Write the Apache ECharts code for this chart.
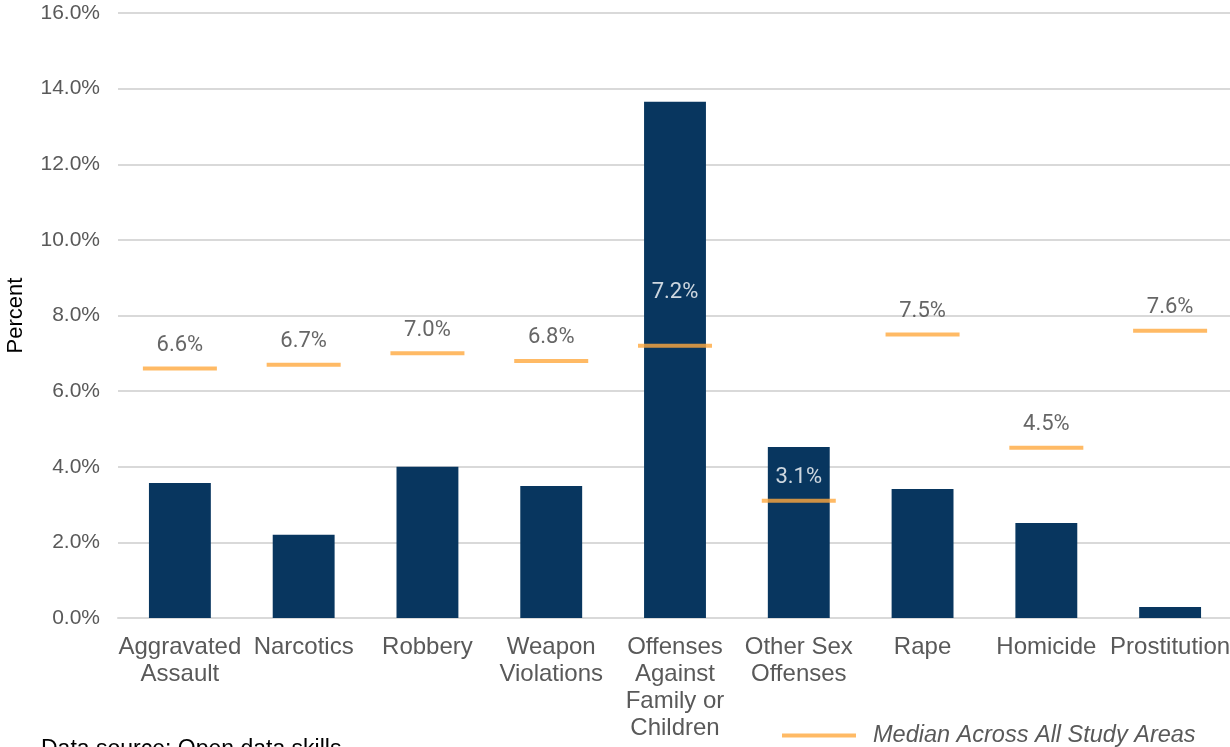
<!DOCTYPE html>
<html>
<head>
<meta charset="utf-8">
<script src="https://cdn.jsdelivr.net/npm/echarts@6/dist/echarts.min.js"></script>
<style>
  html, body { margin: 0; padding: 0; background: #ffffff; }
  #chart { width: 1230px; height: 747px; }
</style>
</head>
<body>
<div id="chart"></div>
<script>
// Offense categories along the x axis
const categories = [
  'Aggravated\nAssault', 'Narcotics', 'Robbery', 'Weapon\nViolations',
  'Offenses\nAgainst\nFamily or\nChildren', 'Other Sex\nOffenses', 'Rape',
  'Homicide', 'Prostitution'
];
// Share of offenses in this area (percent)
const areaPercent = [3.57, 2.2, 4.0, 3.49, 13.65, 4.52, 3.41, 2.51, 0.29];
// Median share across all study areas (percent)
const medianPercent = [6.6, 6.7, 7.0, 6.8, 7.2, 3.1, 7.5, 4.5, 7.6];
// Y axis range and step (percent)
const yMin = 0, yMax = 16, yStep = 2;

const sansFont = "'Liberation Sans', Arial, sans-serif";
const labelFont = "'Roboto', sans-serif";
const medianData = medianPercent.map((v, i) => {
  const item = { value: v };
  if (i === 4) {
    item.label = { color: '#ffffff', distance: 40 };
  } else if (i === 5) {
    item.label = { color: '#ffffff' };
  }
  return item;
});

const chart = echarts.init(document.getElementById('chart'));
chart.setOption({
  animation: false,
  grid: {
    left: 118, right: -2, top: 13, bottom: 129,
    containLabel: false, outerBoundsMode: 'none'
  },
  xAxis: {
    type: 'category',
    data: categories,
    axisLine: { lineStyle: { color: '#d9d9d9', width: 2 } },
    axisTick: { show: false },
    axisLabel: {
      color: '#595959', fontSize: 24, lineHeight: 27, margin: 16,
      fontFamily: sansFont, interval: 0
    }
  },
  yAxis: {
    type: 'value',
    min: yMin, max: yMax, interval: yStep,
    name: 'Percent',
    nameLocation: 'middle',
    nameGap: 91,
    nameTextStyle: { color: '#000000', fontSize: 22, fontFamily: sansFont },
    axisLine: { show: false },
    axisTick: { show: false },
    splitLine: { lineStyle: { color: '#d9d9d9', width: 2 } },
    axisLabel: {
      color: '#595959', fontSize: 21, margin: 18,
      fontFamily: sansFont,
      formatter: v => v.toFixed(1) + '%'
    }
  },
  legend: {
    left: 777, top: 719,
    itemWidth: 74, itemHeight: 4,
    icon: 'rect',
    data: [{ name: 'Median Across All Study Areas' }],
    textStyle: {
      color: '#595959', fontSize: 23.5, fontStyle: 'italic',
      fontFamily: sansFont,
      padding: [0, 0, 0, 12]
    }
  },
  graphic: [{
    type: 'text', left: 41, top: 738,
    style: {
      text: 'Data source: Open data skills', fill: '#000000',
      font: "23px 'Liberation Sans', Arial, sans-serif"
    }
  }],
  series: [
    {
      name: 'Area',
      type: 'bar',
      data: areaPercent,
      barWidth: '50%',
      itemStyle: { color: '#08365f' },
      z: 2
    },
    {
      name: 'Median Across All Study Areas',
      type: 'scatter',
      data: medianData,
      symbol: 'rect',
      symbolSize: [74, 4],
      itemStyle: { color: '#ffa93f' },
      z: 3,
      label: {
        show: true, position: 'top', distance: 10,
        color: '#404040', fontSize: 22, fontFamily: labelFont,
        formatter: p => p.value.toFixed(1) + '%'
      }
    }
  ]
});
</script>
</body>
</html>
